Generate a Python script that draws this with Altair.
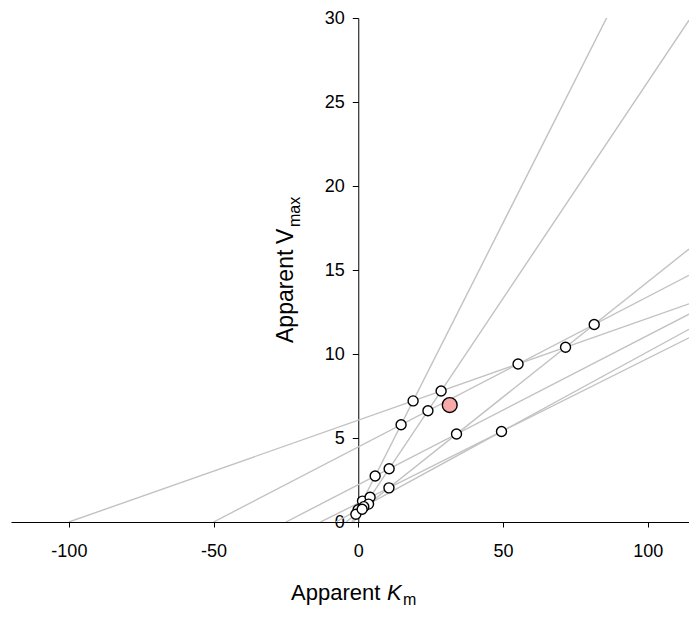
import altair as alt
import pandas as pd

# Direct linear plot: one line per observation (substrate s, rate v)
substrate = [100, 50, 25, 13, 7.8, 4.23, 2.2, 1.63]
rate = [6.06, 4.47, 2.22, 1.12, 0.733, 0.58, 0.75, 0.42]
median_km = [31.6]
median_vmax = [6.96]
x_ticks = [-100, -50, 0, 50, 100]
y_ticks = [0, 5, 10, 15, 20, 25, 30]

PX_PER_K = 2.894
W, H = 678, 504
K_MIN = -120
K_MAX = K_MIN + W / PX_PER_K
V_MIN, V_MAX = 0, 30
FONT = "Liberation Sans"

rows = []
for i, (s, v) in enumerate(zip(substrate, rate)):
    rows.append({"line": i, "K": -s, "V": 0.0})
    rows.append({"line": i, "K": K_MAX, "V": v * (1 + K_MAX / s)})
lines_df = pd.DataFrame(rows)

pts = []
n = len(substrate)
for i in range(n):
    for j in range(i + 1, n):
        si, vi = substrate[i], rate[i]
        sj, vj = substrate[j], rate[j]
        denom = vj / sj - vi / si
        if abs(denom) < 1e-12:
            continue
        k = (vi - vj) / denom
        vv = vi * (1 + k / si)
        if K_MIN <= k <= K_MAX and V_MIN <= vv <= V_MAX:
            pts.append({"K": k, "V": vv})
pts_df = pd.DataFrame(pts)
med_df = pd.DataFrame({"K": median_km, "V": median_vmax})

y_offset = -(0 - K_MIN) / (K_MAX - K_MIN) * W

xscale = alt.Scale(domain=[K_MIN, K_MAX], nice=False, zero=False)
yscale = alt.Scale(domain=[V_MIN, V_MAX], nice=False, zero=False)

x_enc = alt.X("K:Q", scale=xscale,
              axis=alt.Axis(values=x_ticks, title=None, grid=False, labelFlush=False,
                            labelOverlap=False, tickSize=5, labelPadding=15,
                            labelExpr="'' + datum.value",
                            domainColor="black", tickColor="black", labelColor="black",
                            labelFont=FONT, labelFontSize=18, domainWidth=1, tickWidth=1))
y_enc = alt.Y("V:Q", scale=yscale,
              axis=alt.Axis(values=y_ticks, title=None, grid=False, labelFlush=False,
                            labelOverlap=False, tickSize=6, labelPadding=8, offset=y_offset,
                            labelExpr="'' + datum.value",
                            domainColor="black", tickColor="black", labelColor="black",
                            labelFont=FONT, labelFontSize=18, domainWidth=1, tickWidth=1))

lines = alt.Chart(lines_df).mark_line(color="#c2c2c2", strokeWidth=1.4, clip=True).encode(
    x=x_enc, y=y_enc, detail="line:N")

points = alt.Chart(pts_df).mark_circle(size=100, fill="white", stroke="black",
                                        strokeWidth=1.4, opacity=1, clip=True).encode(
    x="K:Q", y="V:Q")

median = alt.Chart(med_df).mark_circle(size=220, fill="#f8a9a9", stroke="black",
                                        strokeWidth=1.4, opacity=1).encode(
    x="K:Q", y="V:Q")

dummy = pd.DataFrame({"a": [0]})

def txt(t, x, y, size, angle=0, style="normal"):
    return alt.Chart(dummy).mark_text(text=t, font=FONT, fontSize=size, align="left",
                                      baseline="alphabetic", angle=angle, fontStyle=style,
                                      color="black").encode(x=alt.value(x), y=alt.value(y))

titles = [
    txt("Apparent", 280, 582, 22),
    txt("K", 376, 582, 22, style="italic"),
    txt("m", 392, 587, 16),
    txt("Apparent", 282, 325, 23, angle=270),
    txt("V", 282, 226, 23, angle=270),
    txt("max", 289, 209, 16, angle=270),
]

chart = alt.layer(lines, points, median, *titles).properties(
    width=W, height=H,
    autosize=alt.AutoSizeParams(type="none"),
    padding={"left": 3, "top": 10, "right": 0, "bottom": 87},
).configure_view(stroke=None)

chart.save("out.html", embed_options={"renderer": "svg", "actions": False})
